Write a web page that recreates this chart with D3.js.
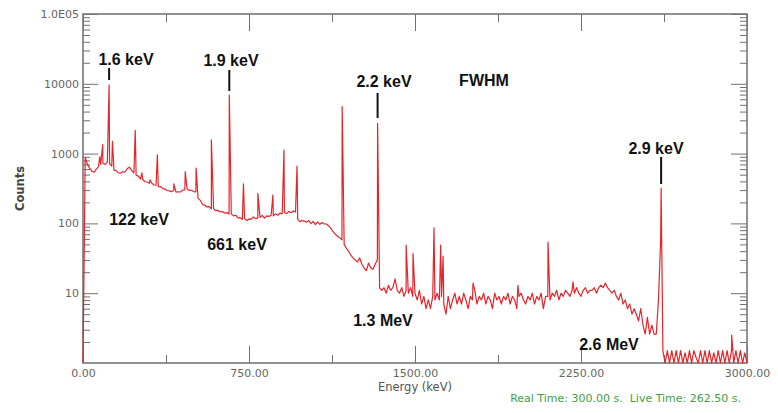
<!DOCTYPE html>
<html>
<head>
<meta charset="utf-8">
<script src="https://cdn.jsdelivr.net/npm/d3@7"></script>
<style>
  body { margin: 0; background: #fff; }
  svg { display: block; }
  .tick text { font-family: "DejaVu Sans", Verdana, sans-serif; font-size: 11px; fill: #666; }
  .tick line { stroke: #707070; }
</style>
</head>
<body>
<div id="chart"></div>
<script>
// spectrum: counts per 10 keV channel
const binWidth = 10;
const counts = [
  // 0 - 90 keV
  1, 880, 700, 620, 560, 540, 600, 650, 700, 720,
  // 100
  700, 760, 720, 660, 580, 570, 530, 525, 550, 545,
  // 200
  610, 640, 570, 530, 490, 475, 430, 425, 395, 392,
  // 300
  375, 380, 355, 352, 335, 338, 315, 310, 296, 292,
  // 400
  285, 298, 280, 284, 282, 300, 302, 315, 296, 298,
  // 500
  286, 282, 228, 214, 186, 183, 172, 174, 162, 163,
  // 600
  152, 154, 146, 148, 140, 143, 136, 137, 128, 131,
  // 700
  120, 121, 114, 117, 110, 116, 114, 124, 117, 120,
  // 800
  122, 130, 119, 128, 126, 131, 128, 137, 131, 140,
  // 900
  137, 145, 138, 148, 142, 151, 146, 114, 106, 110,
  // 1000
  108, 104, 110, 99, 107, 96, 105, 97, 103, 98,
  // 1100
  98, 92, 85, 76, 70, 66, 62, 58, 50, 44,
  // 1200
  40, 35, 32, 30, 28, 32, 26, 23, 21, 27,
  // 1300
  23, 22, 26, 30, 12, 11, 12, 10, 13, 11,
  // 1400
  12, 16, 11, 10, 12, 9, 11, 10, 12, 9,
  // 1500
  10, 8, 11, 7, 9, 6, 8, 6, 9, 8,
  // 1600
  10, 8, 9, 7, 5, 9, 6, 8, 10, 7,
  // 1700
  9, 7, 10, 8, 6, 9, 8, 11, 7, 9,
  // 1800
  8, 10, 7, 9, 8, 6, 10, 8, 9, 7,
  // 1900
  9, 8, 10, 7, 9, 8, 6, 9, 10, 8,
  // 2000
  7, 9, 8, 10, 7, 9, 8, 10, 6, 9,
  // 2100
  9, 8, 10, 9, 11, 8, 10, 9, 11, 10,
  // 2200
  9, 11, 10, 12, 10, 9, 11, 12, 10, 11,
  // 2300
  11, 12, 10, 12, 13, 12, 14, 12, 11, 10,
  // 2400
  11, 9, 8, 10, 7, 8, 6, 7, 5, 6,
  // 2500
  5, 4, 6, 3.5, 2.6, 4.5, 2.6, 3.5, 2.6, 2.6,
  // 2600
  8, 60, 1.5, 1, 1.5, 1, 1.5, 1, 1.5, 1,
  // 2700
  1.5, 1, 1.4, 1, 1.5, 1, 1.5, 1.2, 1, 1.5,
  // 2800
  1, 1.5, 1, 1.5, 1, 1.4, 1, 1.5, 1, 1.5,
  // 2900
  1, 1.5, 1, 1.5, 1, 1.5, 1, 1.5, 1, 1.4,
  // 3000
  1
];

// narrow photopeaks on top of the continuum
const peakEnergies = [76, 89, 118, 133, 236, 266, 303, 336, 410, 462, 511, 580, 661, 725, 790, 858, 908, 967,
  1171, 1331, 1460, 1491, 1586, 1616, 1627, 1762, 1965, 2101, 2214, 2612, 2931];
const peakCounts = [900, 1350, 9600, 1500, 2150, 530, 420, 960, 370, 550, 620, 1580, 6900, 370, 270, 255, 1120, 660,
  4700, 2720, 49, 37, 86, 49, 34, 14, 13, 54, 14.5, 321, 2.5];

// axis ticks
const xMajorTicks = [0, 750, 1500, 2250, 3000];
const xTickLabels = ["0.00", "750.00", "1500.00", "2250.00", "3000.00"];
const xMinorTicks = [375, 1125, 1875, 2625];
const yMajorTicks = [10, 100, 1000, 10000, 100000];
const yTickLabels = ["10", "100", "1000", "10000", "1.0E05"];

// resolution markers and labels
const markerLabels = ["1.6 keV", "1.9 keV", "2.2 keV", "2.9 keV"];
const markerEnergies = [118, 661, 1331, 2612];
const lineLabels = ["122 keV", "661 keV", "1.3 MeV", "2.6 MeV"];

const margin = {top: 14, right: 31, bottom: 50, left: 83};
const width = 778 - margin.left - margin.right;
const height = 413 - margin.top - margin.bottom;

const svg = d3.select("#chart").append("svg")
    .attr("width", 778)
    .attr("height", 413);

const g = svg.append("g")
    .attr("transform", "translate(" + margin.left + "," + margin.top + ")");

const xScale = d3.scaleLinear().domain([0, 3000]).range([0, width]);
const yScale = d3.scaleLog().domain([1, 1e5]).range([height, 0]);

const yMinorTicks = [];
[1, 10, 100, 1000, 10000].forEach(dec => {
    for (let k = 2; k <= 9; k++) yMinorTicks.push(dec * k);
});

// axes, ticks pointing inside the frame
g.append("g").attr("transform", "translate(0," + height + ")")
    .call(d3.axisBottom(xScale).tickValues(xMajorTicks).tickSize(-17).tickPadding(6)
        .tickFormat((d, i) => xTickLabels[i]));
g.append("g").attr("transform", "translate(0," + height + ")")
    .call(d3.axisBottom(xScale).tickValues(xMinorTicks).tickSize(-8).tickFormat(""));
g.append("g")
    .call(d3.axisTop(xScale).tickValues(xMajorTicks).tickSize(-17).tickFormat(""));
g.append("g")
    .call(d3.axisTop(xScale).tickValues(xMinorTicks).tickSize(-8).tickFormat(""));

g.append("g")
    .call(d3.axisLeft(yScale).tickValues(yMajorTicks).tickSize(-15).tickPadding(4)
        .tickFormat((d, i) => yTickLabels[i]));
g.append("g")
    .call(d3.axisLeft(yScale).tickValues(yMinorTicks).tickSize(-7).tickFormat(""));
g.append("g").attr("transform", "translate(" + width + ",0)")
    .call(d3.axisRight(yScale).tickValues(yMajorTicks).tickSize(-16).tickFormat(""));
g.append("g").attr("transform", "translate(" + width + ",0)")
    .call(d3.axisRight(yScale).tickValues(yMinorTicks).tickSize(-7).tickFormat(""));

g.selectAll(".domain").remove();

g.append("rect")
    .attr("width", width)
    .attr("height", height)
    .attr("fill", "none")
    .attr("stroke", "#777")
    .attr("stroke-width", 1.6);

// spectrum
const points = counts.map((c, i) => ({e: i * binWidth, c: c}))
    .concat(peakEnergies.map((e, i) => ({e: e, c: peakCounts[i]})))
    .sort((a, b) => a.e - b.e);

const line = d3.line()
    .x(d => xScale(d.e))
    .y(d => yScale(Math.max(d.c, 1)));

g.append("path")
    .datum(points)
    .attr("d", line)
    .attr("fill", "none")
    .attr("stroke", "#e3262c")
    .attr("stroke-width", 1.2)
    .attr("stroke-linejoin", "round");

// annotations
const boldFont = "'Liberation Sans', Arial, sans-serif";
const markerLayout = [
    {lx: 126, ly: 65, y0: 68, y1: 80},
    {lx: 231, ly: 66, y0: 70, y1: 91},
    {lx: 384, ly: 87, y0: 93, y1: 118},
    {lx: 656, ly: 154, y0: 157, y1: 184}
];

markerLabels.forEach((label, i) => {
    const pos = markerLayout[i];
    const mx = margin.left + xScale(markerEnergies[i]);
    svg.append("line")
        .attr("x1", mx).attr("x2", mx)
        .attr("y1", pos.y0).attr("y2", pos.y1)
        .attr("stroke", "#111")
        .attr("stroke-width", 2);
    svg.append("text")
        .attr("x", pos.lx).attr("y", pos.ly)
        .attr("text-anchor", "middle")
        .style("font-family", boldFont)
        .style("font-size", "16px")
        .style("font-weight", "bold")
        .style("fill", "#111")
        .text(label);
});

svg.append("text")
    .attr("x", 484).attr("y", 86)
    .attr("text-anchor", "middle")
    .style("font-family", boldFont)
    .style("font-size", "16px")
    .style("font-weight", "bold")
    .style("fill", "#111")
    .text("FWHM");

const lineLayout = [[139, 225], [237, 250], [383, 326], [609, 350]];
lineLabels.forEach((label, i) => {
    svg.append("text")
        .attr("x", lineLayout[i][0]).attr("y", lineLayout[i][1])
        .attr("text-anchor", "middle")
        .style("font-family", boldFont)
        .style("font-size", "16px")
        .style("font-weight", "bold")
        .style("fill", "#111")
        .text(label);
});

// axis titles
svg.append("text")
    .attr("x", margin.left + width / 2)
    .attr("y", 391)
    .attr("text-anchor", "middle")
    .style("font-family", "'DejaVu Sans', Verdana, sans-serif")
    .style("font-size", "11.5px")
    .style("fill", "#555")
    .text("Energy (keV)");

svg.append("text")
    .attr("transform", "translate(24," + (margin.top + height / 2) + ") rotate(-90)")
    .attr("text-anchor", "middle")
    .style("font-family", "'DejaVu Sans', Verdana, sans-serif")
    .style("font-size", "11.5px")
    .style("font-weight", "bold")
    .style("fill", "#444")
    .text("Counts");

svg.append("text")
    .attr("x", 741)
    .attr("y", 402)
    .attr("text-anchor", "end")
    .style("font-family", "'DejaVu Sans', Verdana, sans-serif")
    .style("font-size", "11px")
    .style("fill", "#43a047")
    .style("white-space", "pre")
    .text("Real Time: 300.00 s.  Live Time: 262.50 s.");
</script>
</body>
</html>
